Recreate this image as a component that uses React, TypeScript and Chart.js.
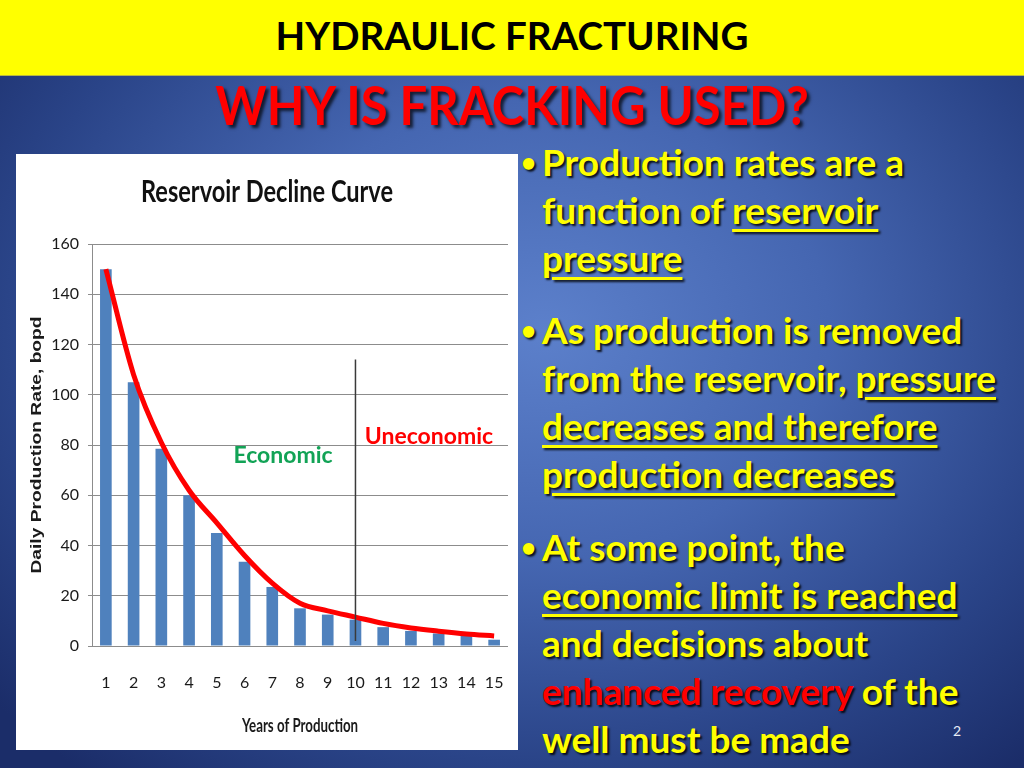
import React, { useEffect, useRef } from "react";
import { Chart, registerables } from "chart.js";

Chart.register(...registerables);

// ---- data ----
const years = ["1", "2", "3", "4", "5", "6", "7", "8", "9", "10", "11", "12", "13", "14", "15"];
const barValues = [150, 105, 78.5, 60, 45, 33.5, 23.5, 15, 12.5, 10.5, 7.5, 6, 5, 4, 2.5];
const curveValues = [150, 108, 81, 62, 49, 36, 25, 17, 14, 11.5, 9, 7.2, 5.9, 4.8, 4];
const yMin = 0;
const yMax = 160;
const yStep = 20;
const chartTitle = "Reservoir Decline Curve";
const xTitle = "Years of Production";
const yTitle = "Daily Production Rate, bopd";
const economicLimitYear = "10";
const limitLineValues = [2, 114];
const zoneTexts = ["Economic", "Uneconomic"];
const zoneYears = [7.39, 12.65];
const zoneValues = [75.6, 83.2];
const zoneColors = ["#12a356", "#ff0000"];

const LATO = "Lato, sans-serif";

function drawScaledText(ctx: any, text: string, x: number, y: number, font: string, sx: number, rot = 0) {
  ctx.save();
  ctx.translate(x, y);
  if (rot) ctx.rotate(rot);
  ctx.scale(sx, 1);
  ctx.font = font;
  ctx.textAlign = "center";
  ctx.textBaseline = "middle";
  ctx.fillText(text, 0, 0);
  ctx.restore();
}

const textPlugin = {
  id: "chartTexts",
  afterDraw(chart: any) {
    const { ctx, chartArea, width, height } = chart;
    ctx.save();
    ctx.fillStyle = "#111";
    drawScaledText(ctx, chartTitle, width / 2, 38, `bold 31px ${LATO}`, 0.76);
    ctx.fillStyle = "#1a1a1a";
    drawScaledText(ctx, xTitle, (chartArea.left + chartArea.right) / 2, height - 24, `bold 19px ${LATO}`, 0.7);
    drawScaledText(
      ctx,
      yTitle,
      21,
      (chartArea.top + chartArea.bottom) / 2,
      'bold 15px "Liberation Sans", Arial, sans-serif',
      1.28,
      -Math.PI / 2
    );
    ctx.restore();
  },
  afterDatasetsDraw(chart: any) {
    const { ctx, scales } = chart;
    const x = scales.x.getPixelForValue(years.indexOf(economicLimitYear));
    const y1 = scales.y.getPixelForValue(limitLineValues[1]);
    const y0 = scales.y.getPixelForValue(limitLineValues[0]);
    ctx.save();
    ctx.strokeStyle = "#3a3a3a";
    ctx.lineWidth = 1.5;
    ctx.beginPath();
    ctx.moveTo(x, y1);
    ctx.lineTo(x, y0);
    ctx.stroke();
    ctx.font = `bold 23px ${LATO}`;
    ctx.textAlign = "center";
    ctx.textBaseline = "middle";
    zoneTexts.forEach((t, i) => {
      ctx.fillStyle = zoneColors[i];
      ctx.fillText(t, scales.x.getPixelForValue(zoneYears[i] - 1), scales.y.getPixelForValue(zoneValues[i]));
    });
    ctx.restore();
  },
};

function DeclineChart() {
  const ref = useRef<HTMLCanvasElement | null>(null);
  useEffect(() => {
    if (!ref.current) return;
    const chart = new Chart(ref.current, {
      type: "bar",
      data: {
        labels: years,
        datasets: [
          {
            type: "line",
            label: "Decline curve",
            data: curveValues,
            borderColor: "#ff0000",
            backgroundColor: "#ff0000",
            borderWidth: 5,
            pointRadius: 0,
            cubicInterpolationMode: "monotone",
            order: 0,
          } as any,
          {
            type: "bar",
            label: "Daily production",
            data: barValues,
            backgroundColor: "#4f81bd",
            barPercentage: 0.42,
            categoryPercentage: 1,
            grouped: false,
            order: 1,
          } as any,
        ],
      },
      options: {
        responsive: false,
        animation: false,
        layout: { padding: { left: 0, right: 10, top: 90, bottom: 0 } },
        plugins: {
          legend: { display: false },
          tooltip: { enabled: false },
          title: { display: false },
        },
        scales: {
          x: {
            type: "category",
            offset: true,
            grid: { display: false, drawTicks: true, tickLength: 27 },
            border: { display: false },
            ticks: { font: { family: LATO, size: 16 }, color: "#1a1a1a", padding: 0, maxRotation: 0, autoSkip: false },
            afterFit: (s: any) => {
              s.height = 104;
            },
          },
          y: {
            min: yMin,
            max: yMax,
            ticks: { stepSize: yStep, font: { family: LATO, size: 16 }, color: "#1a1a1a", padding: 9 },
            grid: { color: "#8c8c8c", tickLength: 4, lineWidth: 1 },
            border: { display: true, color: "#8c8c8c" },
            afterFit: (s: any) => {
              s.width = 76;
            },
          },
        },
      } as any,
      plugins: [textPlugin],
    });
    return () => chart.destroy();
  }, []);
  return <canvas ref={ref} width={502} height={596} style={{ display: "block" }} />;
}

const bulletText: React.CSSProperties = {
  position: "absolute",
  left: 542,
  color: "#ffff00",
  fontFamily: LATO,
  fontWeight: 700,
  fontSize: 37,
  lineHeight: "48px",
  whiteSpace: "nowrap",
  textShadow: "2px 2px 2px rgba(0,0,0,0.85)",
};
const bulletDot: React.CSSProperties = {
  position: "absolute",
  left: -21,
  top: 0,
  fontSize: 26,
};
const u: React.CSSProperties = { textDecoration: "underline", textDecorationThickness: 3, textUnderlineOffset: 5 };

export default function App() {
  return (
    <div
      style={{
        position: "absolute",
        left: 0,
        top: 0,
        width: 1024,
        height: 768,
        overflow: "hidden",
        background: "radial-gradient(ellipse 70% 75% at 53% 43%, #5c80cb 0%, #4566b1 40%, #2a4488 75%, #1b2d69 100%)",
        fontFamily: LATO,
      }}
    >
      <div
        style={{
          position: "absolute",
          left: 0,
          top: 0,
          width: 1024,
          height: 75,
          background: "#ffff00",
          borderBottom: "1px solid #b8b840",
          textAlign: "center",
          fontWeight: 700,
          fontSize: 38.5,
          lineHeight: "70px",
          color: "#000",
        }}
      >
        HYDRAULIC FRACTURING
      </div>
      <div
        style={{
          position: "absolute",
          left: 0,
          top: 76,
          width: 1024,
          textAlign: "center",
          fontWeight: 700,
          fontSize: 49,
          lineHeight: "56px",
          color: "#ff0000",
          textShadow: "3px 3px 3px rgba(0,0,0,0.7)",
          transform: "scaleY(1.08)",
        }}
      >
        WHY IS FRACKING USED?
      </div>
      <div style={{ position: "absolute", left: 16, top: 154, width: 502, height: 596, background: "#fff" }}>
        <DeclineChart />
      </div>
      <div style={{ ...bulletText, top: 138 }}>
        <span style={bulletDot}>•</span>
        Production rates are a<br />
        function of <span style={u}>reservoir</span>
        <br />
        <span style={u}>pressure</span>
      </div>
      <div style={{ ...bulletText, top: 306 }}>
        <span style={bulletDot}>•</span>
        As production is removed<br />
        from the reservoir, <span style={u}>pressure</span>
        <br />
        <span style={u}>decreases and therefore</span>
        <br />
        <span style={u}>production decreases</span>
      </div>
      <div style={{ ...bulletText, top: 523 }}>
        <span style={bulletDot}>•</span>
        At some point, the<br />
        <span style={u}>economic limit is reached</span>
        <br />
        and decisions about<br />
        <span style={{ color: "#ff0000" }}>enhanced recovery</span> of the<br />
        well must be made
      </div>
      <div style={{ position: "absolute", left: 953, top: 722, color: "#e8ecf5", fontSize: 14, fontFamily: LATO }}>2</div>
    </div>
  );
}
